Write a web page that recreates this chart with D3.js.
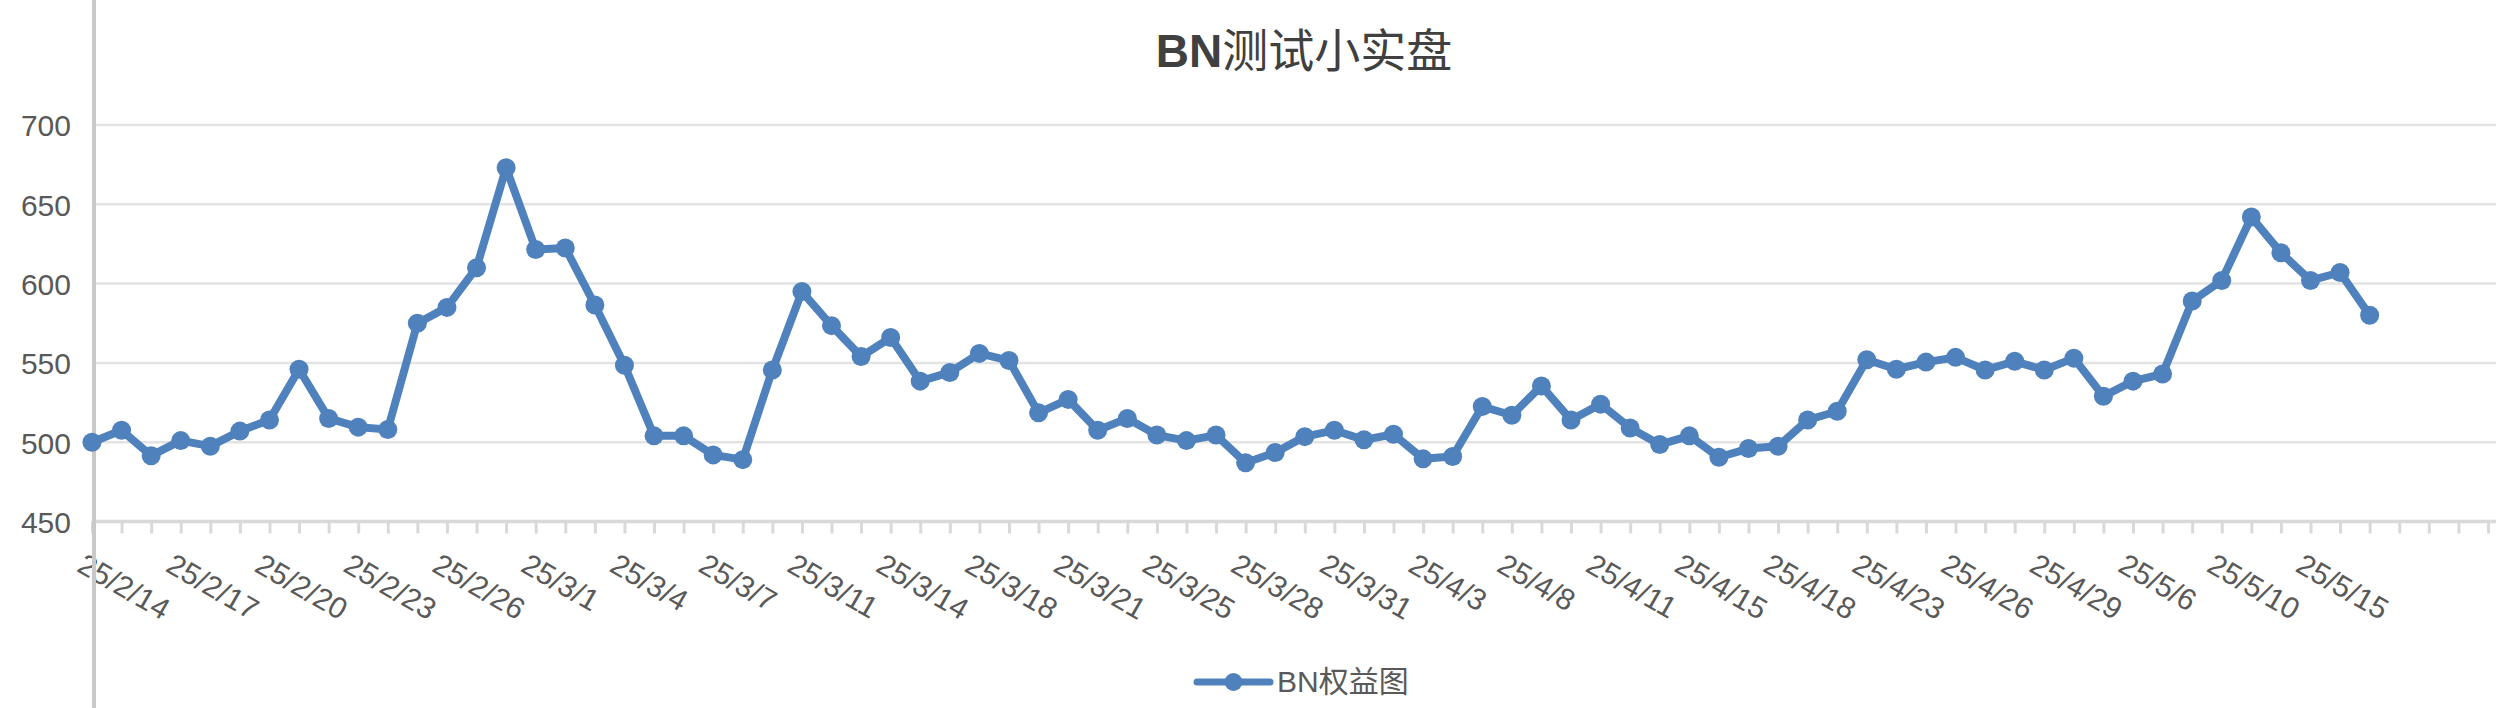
<!DOCTYPE html>
<html>
<head>
<meta charset="utf-8">
<script src="https://cdn.jsdelivr.net/npm/d3@7"></script>
<style>
  html, body { margin: 0; padding: 0; background: #fff; }
  svg { display: block; }
</style>
</head>
<body>
<script>
// category labels (one per data point)
const dates = [
  '25/2/14','25/2/15','25/2/16','25/2/17','25/2/18','25/2/19','25/2/20','25/2/21','25/2/22','25/2/23',
  '25/2/24','25/2/25','25/2/26','25/2/27','25/2/28','25/3/1','25/3/2','25/3/3','25/3/4','25/3/5',
  '25/3/6','25/3/7','25/3/8','25/3/10','25/3/11','25/3/12','25/3/13','25/3/14','25/3/15','25/3/17',
  '25/3/18','25/3/19','25/3/20','25/3/21','25/3/22','25/3/24','25/3/25','25/3/26','25/3/27','25/3/28',
  '25/3/29','25/3/30','25/3/31','25/4/1','25/4/2','25/4/3','25/4/5','25/4/7','25/4/8','25/4/9',
  '25/4/10','25/4/11','25/4/12','25/4/14','25/4/15','25/4/16','25/4/17','25/4/18','25/4/20','25/4/22',
  '25/4/23','25/4/24','25/4/25','25/4/26','25/4/27','25/4/28','25/4/29','25/4/30','25/5/3','25/5/6',
  '25/5/7','25/5/8','25/5/10','25/5/12','25/5/13','25/5/15','25/5/16','25/5/17'
];

// BN权益图 values
const equity = [
  500, 507.5, 491.5, 501, 497.5, 507, 514, 546, 515, 509.5,
  508, 575, 585, 610, 673, 621.5, 622.5, 586.5, 548.5, 504,
  504, 492, 489, 545.5, 595, 573.5, 554, 566, 538.5, 544,
  556, 551.5, 518.5, 527, 507.5, 515, 504.5, 501, 504.5, 487,
  493.5, 503.5, 507.5, 501.5, 505, 489.5, 491, 522.5, 517, 535.5,
  514, 524, 509, 498.5, 504, 490.5, 496, 497.5, 514, 519.5,
  552, 546, 550.5, 553.5, 545.5, 551, 545.5, 553, 529, 538.5,
  543, 589, 602, 642, 619.5, 602, 607, 580
];

const yTicks = [450, 500, 550, 600, 650, 700];
const title = 'BN测试小实盘';
const seriesName = 'BN权益图';

const W = 2496, H = 708;
const blue = '#4f81bd';
const textColor = '#595959';
const font = '"Liberation Sans", Arial, "Noto Sans CJK SC", sans-serif';

// axis has empty slots after the last date (chart is cropped on the right)
const slotCount = 86;
const step = 29.58;
const x0 = 92;

const svg = d3.select('body')
  .append('svg')
  .attr('width', W)
  .attr('height', H)
  .style('font-family', font);

const x = d3.scalePoint()
  .domain(d3.range(slotCount))
  .range([x0, x0 + (slotCount - 1) * step]);

const y = d3.scaleLinear()
  .domain([450, 700])
  .range([521.5, 125]);

// gridlines
svg.append('g')
  .selectAll('line')
  .data(yTicks.slice(1))
  .enter().append('line')
  .attr('x1', 96)
  .attr('x2', W)
  .attr('y1', d => y(d))
  .attr('y2', d => y(d))
  .attr('stroke', '#e3e3e3')
  .attr('stroke-width', 2.5);

// y axis labels
const yAxis = svg.append('g')
  .attr('transform', 'translate(71,0)')
  .call(d3.axisLeft(y).tickValues(yTicks).tickSize(0).tickPadding(0));
yAxis.select('.domain').remove();
yAxis.selectAll('text')
  .attr('fill', textColor)
  .attr('font-size', 30)
  .attr('font-family', font)
  .attr('dy', '0.36em');

// x axis
const xAxis = svg.append('g')
  .attr('transform', `translate(0,${y(450)})`)
  .call(d3.axisBottom(x)
    .tickSize(12)
    .tickFormat(i => (i % 3 === 0 && dates[i]) ? dates[i] : ''));
xAxis.select('.domain').remove();
xAxis.append('line')
  .attr('x1', x0)
  .attr('x2', W)
  .attr('stroke', '#d9d9d9')
  .attr('stroke-width', 3.5);
xAxis.selectAll('.tick line')
  .attr('stroke', '#d9d9d9')
  .attr('stroke-width', 3);
xAxis.selectAll('.tick text')
  .attr('fill', textColor)
  .attr('font-size', 30)
  .attr('font-family', font)
  .attr('text-anchor', 'start')
  .attr('x', 0)
  .attr('y', 0)
  .attr('dy', 0)
  .attr('transform', 'translate(-17,49) rotate(30)');

// left border line
svg.append('line')
  .attr('x1', 94)
  .attr('x2', 94)
  .attr('y1', 0)
  .attr('y2', H)
  .attr('stroke', '#c9c9c9')
  .attr('stroke-width', 4);

// series line
const line = d3.line()
  .x((d, i) => x(i))
  .y(d => y(d));

svg.append('path')
  .datum(equity)
  .attr('d', line)
  .attr('fill', 'none')
  .attr('stroke', blue)
  .attr('stroke-width', 8)
  .attr('stroke-linejoin', 'round');

svg.selectAll('circle.pt')
  .data(equity)
  .enter().append('circle')
  .attr('class', 'pt')
  .attr('cx', (d, i) => x(i))
  .attr('cy', d => y(d))
  .attr('r', 9.5)
  .attr('fill', blue);

// title
const t = svg.append('text')
  .attr('x', 1304)
  .attr('y', 67)
  .attr('text-anchor', 'middle')
  .attr('font-size', 46)
  .attr('fill', '#404040');
t.append('tspan').attr('font-weight', 'bold').text(title.slice(0, 2));
t.append('tspan').attr('font-weight', 'normal').text(title.slice(2));

// legend
const lg = svg.append('g').attr('transform', 'translate(1197,682)');
lg.append('line')
  .attr('x1', 0).attr('x2', 73)
  .attr('stroke', blue)
  .attr('stroke-width', 7)
  .attr('stroke-linecap', 'round');
lg.append('circle')
  .attr('cx', 36.5)
  .attr('r', 9)
  .attr('fill', blue);
lg.append('text')
  .attr('x', 80)
  .attr('y', 10)
  .attr('font-size', 30)
  .attr('fill', textColor)
  .text(seriesName);
</script>
</body>
</html>
